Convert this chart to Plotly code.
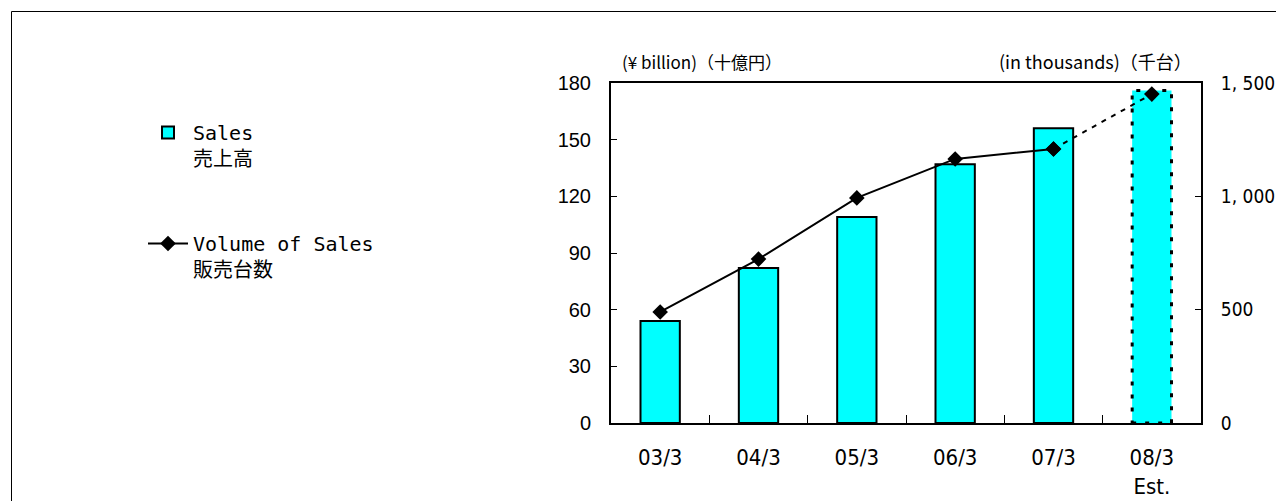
import plotly.graph_objects as go

categories = ["03/3", "04/3", "05/3", "06/3", "07/3", "08/3<br>Est."]
sales = [54, 82, 109, 137, 156, 176]            # ¥ billion
volume = [490, 723, 993, 1165, 1209, 1451]      # thousands
n_actual = 5                                     # last point is an estimate

left_ticks = [0, 30, 60, 90, 120, 150, 180]
right_tickvals = [0, 500, 1000, 1500]
right_ticktext = ["0", "500", "1, 000", "1, 500"]

BAR_W = 0.4
CYAN = "#00FFFF"
MONO = "DejaVu Sans Mono, Noto Sans CJK JP, monospace"
NARROW = "Liberation Sans Narrow, DejaVu Sans Condensed, Arial Narrow, sans-serif"
JP = "Noto Sans CJK JP, sans-serif"

fig = go.Figure()

fig.add_trace(go.Bar(
    x=categories[:n_actual], y=sales[:n_actual], width=BAR_W,
    marker=dict(color=CYAN, line=dict(color="black", width=2)),
    name="Sales<br>売上高", legendgroup="a", yaxis="y",
))
fig.add_trace(go.Bar(
    x=categories[n_actual:], y=sales[n_actual:], width=BAR_W,
    marker=dict(color=CYAN, line=dict(color=CYAN, width=0)),
    showlegend=False, yaxis="y",
))
fig.add_trace(go.Scatter(
    x=categories[:n_actual], y=volume[:n_actual], mode="lines+markers",
    line=dict(color="black", width=2),
    marker=dict(symbol="diamond", size=12, color="black"),
    name="Volume of Sales<br>販売台数", legendgroup="b", yaxis="y2",
))
fig.add_trace(go.Scatter(
    x=categories[n_actual - 1:], y=volume[n_actual - 1:], mode="lines+markers",
    line=dict(color="black", width=2, dash="5px,6px"),
    marker=dict(symbol="diamond", size=12, color="black"),
    showlegend=False, yaxis="y2",
))

# dotted outline of estimated bar
i_est = len(categories) - 1
shapes = [dict(
    type="rect", xref="x", yref="y", layer="above",
    x0=i_est - BAR_W / 2, x1=i_est + BAR_W / 2, y0=0, y1=sales[i_est],
    line=dict(color="black", width=3, dash="4px,9px"),
)]
# outer frame of the whole picture
shapes.append(dict(
    type="rect", xref="paper", yref="paper", layer="below",
    x0=(11.5 - 611) / 590, x1=1.3, y0=-0.5, y1=1 + (83 - 11.5) / 340,
    line=dict(color="black", width=1),
))

fig.update_layout(
    width=1276, height=501,
    margin=dict(l=611, r=75, t=83, b=78, autoexpand=False),
    paper_bgcolor="white", plot_bgcolor="white",
    bargap=0.6,
    shapes=shapes,
    showlegend=True,
    legend=dict(
        x=(143 - 611) / 590, y=1 + (83 - 113) / 340, xanchor="left", yanchor="top",
        font=dict(family=MONO, size=20, color="black"),
        traceorder="grouped", tracegroupgap=56, valign="top",
        itemwidth=40, bgcolor="rgba(0,0,0,0)",
    ),
    xaxis=dict(
        type="category", tickson="boundaries", ticks="inside", ticklen=8,
        tickcolor="black", tickwidth=1, automargin=False,
        showline=True, linecolor="black", linewidth=2, mirror=True,
        tickfont=dict(family=NARROW, size=22, color="black"),
        ticklabelstandoff=14, showgrid=False,
    ),
    yaxis=dict(
        range=[0, 180], tickvals=left_ticks, ticks="inside", ticklen=6,
        tickcolor="black", showline=True, linecolor="black", linewidth=2,
        tickfont=dict(family="Liberation Sans, Arial, sans-serif", size=20, color="black"),
        ticklabelstandoff=14, showgrid=False, zeroline=False, automargin=False,
    ),
    yaxis2=dict(
        range=[0, 1500], tickvals=right_tickvals, ticktext=right_ticktext,
        overlaying="y", side="right", ticks="inside", ticklen=6,
        tickcolor="black", showline=True, linecolor="black", linewidth=2,
        tickfont=dict(family=NARROW, size=19, color="black"),
        ticklabelstandoff=14, showgrid=False, zeroline=False, automargin=False,
    ),
    annotations=[
        dict(text="(¥ billion)（十億円）", xref="paper", yref="paper",
             x=(620 - 611) / 590, y=1 + (83 - 61) / 340, xanchor="left", yanchor="middle",
             showarrow=False, font=dict(family=JP, size=17, color="black")),
        dict(text="(in thousands)（千台）", xref="paper", yref="paper",
             x=(1194 - 611) / 590, y=1 + (83 - 61) / 340, xanchor="right", yanchor="middle",
             showarrow=False, font=dict(family=JP, size=18, color="black")),
    ],
)

fig.write_html("out.html", config={"displayModeBar": False},
               post_script="document.body.style.margin='0px';")
